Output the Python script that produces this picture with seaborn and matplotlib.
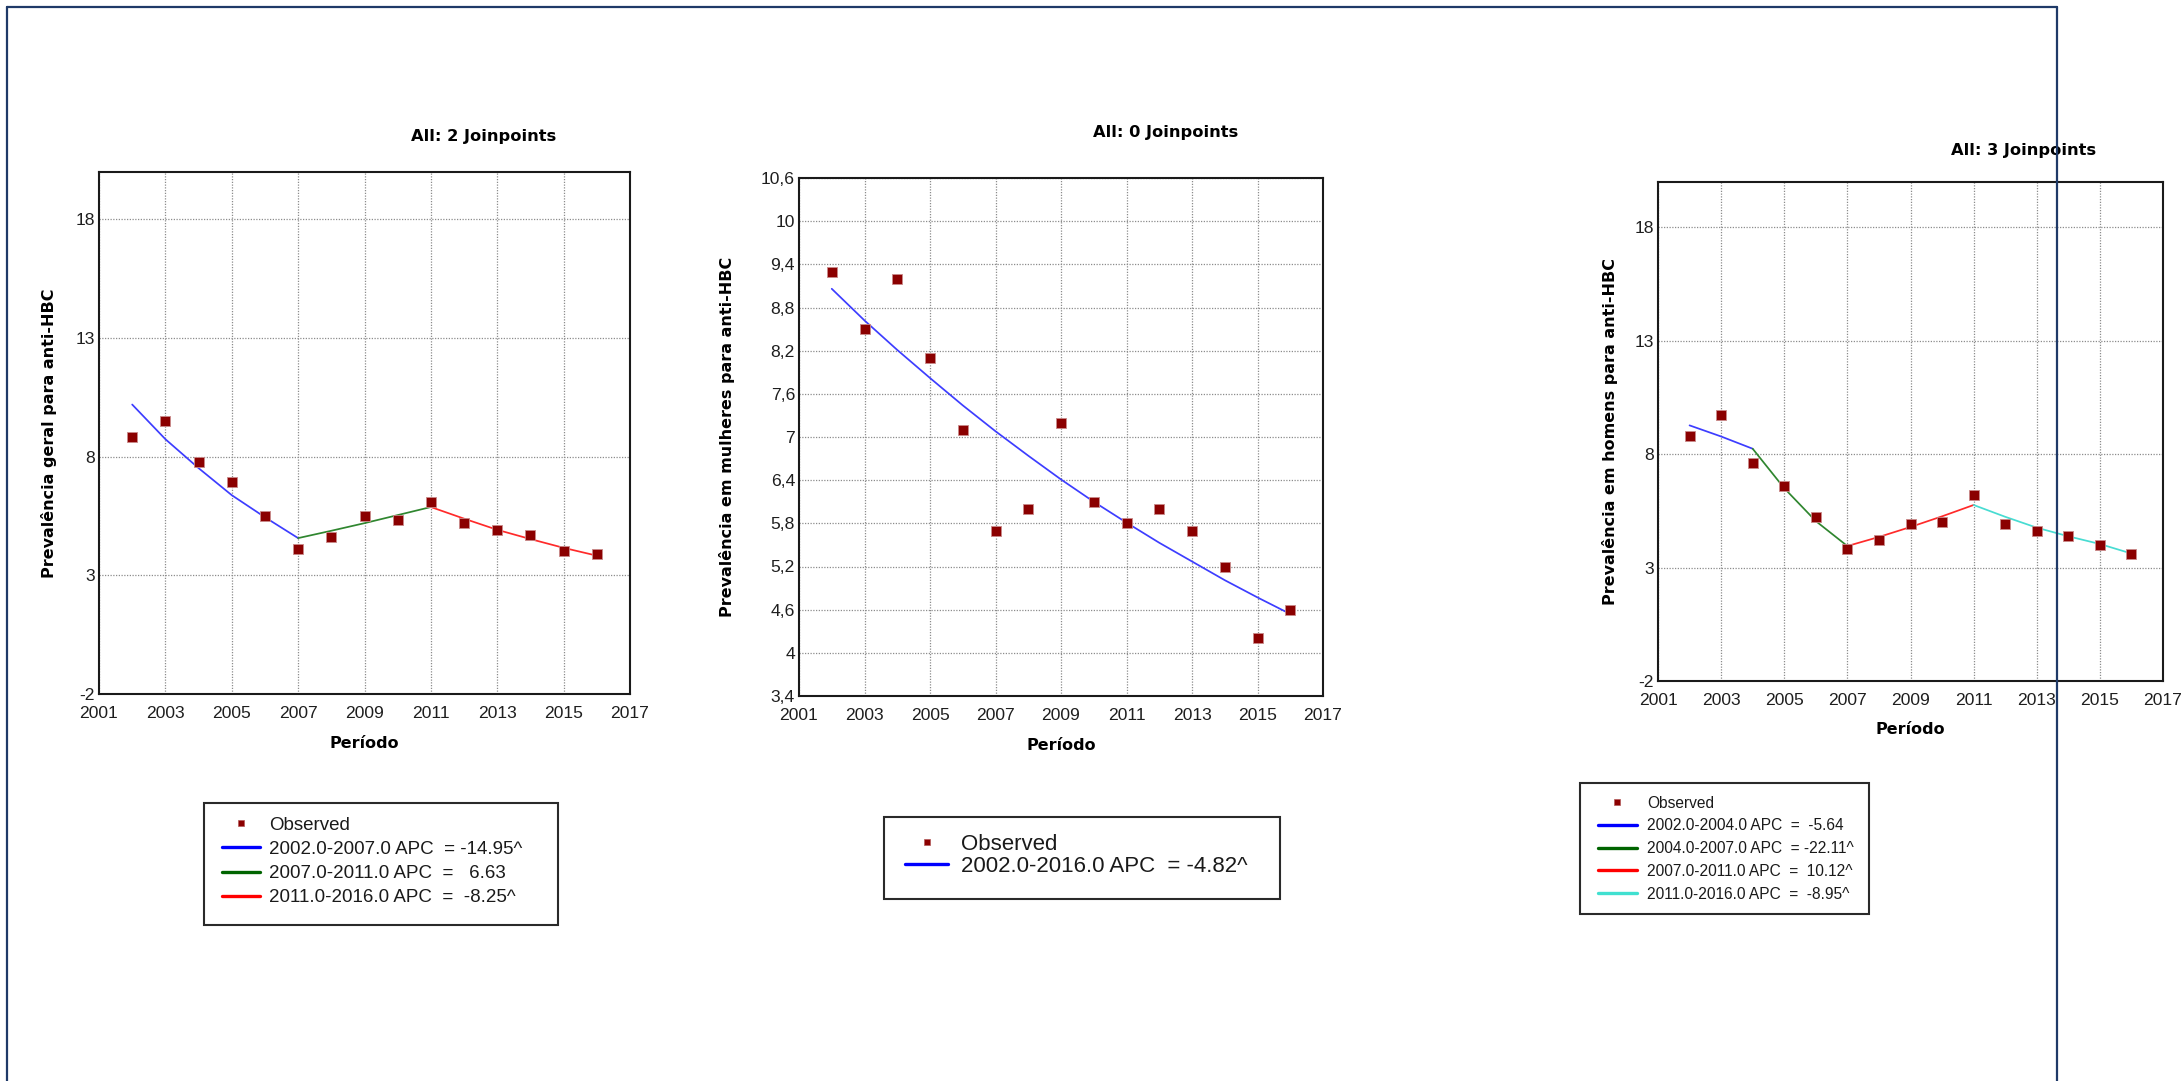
import matplotlib
matplotlib.use("Agg")
import matplotlib.pyplot as plt
import seaborn as sns
from matplotlib.lines import Line2D
from matplotlib.patches import Rectangle
from matplotlib.font_manager import FontProperties

# ---------------- data ----------------
years = [2002, 2003, 2004, 2005, 2006, 2007, 2008, 2009, 2010, 2011, 2012, 2013, 2014, 2015, 2016]
x_ticks = [2001, 2003, 2005, 2007, 2009, 2011, 2013, 2015, 2017]

# Panel 1: geral
obs_geral = [8.82, 9.52, 7.79, 6.92, 5.51, 4.11, 4.62, 5.51, 5.32, 6.10, 5.21, 4.90, 4.71, 4.01, 3.91]
geral_seg1_years = [2002, 2003, 2004, 2005, 2006, 2007]
geral_seg1_vals = [10.2, 8.74, 7.52, 6.38, 5.45, 4.57]
geral_seg2_years = [2007, 2008, 2009, 2010, 2011]
geral_seg2_vals = [4.57, 4.88, 5.20, 5.54, 5.88]
geral_seg3_years = [2011, 2012, 2013, 2014, 2015, 2016]
geral_seg3_vals = [5.88, 5.39, 4.92, 4.53, 4.16, 3.83]
geral_labels = ["2002.0-2007.0 APC  = -14.95^",
                "2007.0-2011.0 APC  =   6.63",
                "2011.0-2016.0 APC  =  -8.25^"]

# Panel 2: mulheres
obs_mulheres = [9.3, 8.5, 9.2, 8.1, 7.1, 5.7, 6.0, 7.2, 6.1, 5.8, 6.0, 5.7, 5.2, 4.2, 4.6]
mulheres_seg1_years = years
mulheres_seg1_vals = [9.06, 8.62, 8.21, 7.82, 7.44, 7.08, 6.74, 6.41, 6.10, 5.81, 5.53, 5.27, 5.01, 4.77, 4.54]
mulheres_labels = ["2002.0-2016.0 APC  = -4.82^"]

# Panel 3: homens
obs_homens = [8.82, 9.71, 7.62, 6.61, 5.21, 3.82, 4.22, 4.90, 5.02, 6.22, 4.92, 4.60, 4.41, 4.01, 3.61]
homens_seg1_years = [2002, 2003, 2004]
homens_seg1_vals = [9.27, 8.78, 8.24]
homens_seg2_years = [2004, 2005, 2006, 2007]
homens_seg2_vals = [8.24, 6.50, 5.05, 3.95]
homens_seg3_years = [2007, 2008, 2009, 2010, 2011]
homens_seg3_vals = [3.95, 4.35, 4.79, 5.26, 5.76]
homens_seg4_years = [2011, 2012, 2013, 2014, 2015, 2016]
homens_seg4_vals = [5.76, 5.24, 4.76, 4.38, 4.04, 3.62]
homens_labels = ["2002.0-2004.0 APC  =  -5.64",
                 "2004.0-2007.0 APC  = -22.11^",
                 "2007.0-2011.0 APC  =  10.12^",
                 "2011.0-2016.0 APC  =  -8.95^"]

yticks_wide = [-2, 3, 8, 13, 18]
yticks_mulheres = [3.4, 4.0, 4.6, 5.2, 5.8, 6.4, 7.0, 7.6, 8.2, 8.8, 9.4, 10.0, 10.6]
yticklabels_mulheres = ["3,4", "4", "4,6", "5,2", "5,8", "6,4", "7", "7,6", "8,2", "8,8", "9,4", "10", "10,6"]

titles = ["All: 2 Joinpoints", "All: 0 Joinpoints", "All: 3 Joinpoints"]
ylabels = ["Prevalência geral para anti-HBC",
           "Prevalência em mulheres para anti-HBC",
           "Prevalência em homens para anti-HBC"]
xlabel = "Período"

# ---------------- style ----------------
sns.set_style("white")
plt.rcParams["font.family"] = ["DejaVu Sans"]
TF = "Liberation Sans"

MARKER = "#8B0000"
PLOT_COLORS = {"blue": "#3d3dff", "green": "#2f862f", "red": "#ff2a2a", "cyan": "#48dcd2"}
LEG_COLORS = {"blue": "#0000ff", "green": "#006400", "red": "#ff0000", "cyan": "#40e0d0"}

W, H = 2184, 1081
fig = plt.figure(figsize=(W / 100, H / 100), dpi=100, facecolor="white")


def rect(l, t, r, b):
    return [l / W, 1 - b / H, (r - l) / W, (b - t) / H]


def panel(box, obs, segs, colors, yticks, yticklabels, ylim, title, title_c,
          ylabel, ylabel_x, xlabel_y):
    l, t, r, b = box
    ax = fig.add_axes(rect(l, t, r, b))
    ax.set_facecolor("white")
    ax.set_axisbelow(True)
    for (sy, sv), c in zip(segs, colors):
        sns.lineplot(x=sy, y=sv, ax=ax, color=PLOT_COLORS[c], lw=1.25, zorder=2)
    sns.scatterplot(x=years, y=obs, ax=ax, marker="s", s=52, color=MARKER,
                    edgecolor="#c98a8a", linewidth=0.6, zorder=3)
    ax.set_xlim(2001, 2017)
    ax.set_ylim(*ylim)
    ax.set_xticks(x_ticks)
    ax.set_xticklabels([str(v) for v in x_ticks])
    ax.set_yticks(yticks)
    ax.set_yticklabels(yticklabels)
    ax.grid(True, color="#8c8c8c", linestyle=(0, (1, 1.2)), linewidth=0.9)
    for lab in ax.get_xticklabels() + ax.get_yticklabels():
        lab.set_fontfamily(TF)
        lab.set_fontsize(12.6)
        lab.set_color("#1e1e1e")
    ax.tick_params(axis="x", length=0, pad=8.5)
    ax.tick_params(axis="y", length=2, width=1.0, pad=0.8, color="#222222")
    for s in ax.spines.values():
        s.set_visible(True)
        s.set_color("#1a1a1a")
        s.set_linewidth(1.5)
    cx, cy = title_c
    ax.set_title(title, x=(cx - l) / (r - l), y=(b - cy) / (b - t), pad=0,
                 va="center", ha="center", fontsize=11.7, fontweight="bold",
                 color="black")
    ax.set_xlabel(xlabel, fontsize=11.5, fontweight="bold", color="black")
    ax.xaxis.label.set_va("center")
    ax.xaxis.set_label_coords(0.5, (b - xlabel_y) / (b - t))
    ax.set_ylabel(ylabel, fontsize=11.5, fontweight="bold", color="black")
    ax.yaxis.label.set_va("center")
    ax.yaxis.set_label_coords((ylabel_x - l) / (r - l), 0.5)
    return ax


def legend(ax, labels, colors, frame, anchor, fsize, hlen, hpad, lspace):
    fx0, fy0, fx1, fy1 = frame
    fig.add_artist(Rectangle((fx0 / W, 1 - fy1 / H), (fx1 - fx0) / W, (fy1 - fy0) / H,
                             transform=fig.transFigure, fill=False,
                             edgecolor="#2a2a2a", linewidth=1.5, zorder=5))
    handles = [Line2D([], [], ls="none", marker="s", markersize=5.0, color=MARKER,
                      markeredgecolor="#b45a5a", markeredgewidth=0.5)]
    handles += [Line2D([], [], color=LEG_COLORS[c], lw=2.4) for c in colors]
    leg = ax.legend(handles, ["Observed"] + labels, loc="upper left",
                    bbox_to_anchor=(anchor[0] / W, 1 - anchor[1] / H),
                    bbox_transform=fig.transFigure, frameon=False,
                    borderpad=0, borderaxespad=0, handlelength=hlen,
                    handletextpad=hpad, labelspacing=lspace,
                    prop=FontProperties(family=TF, size=fsize))
    for txt in leg.get_texts():
        txt.set_color("#1a1a1a")
    return leg


ax1 = panel((99, 172, 630, 694), obs_geral,
            [(geral_seg1_years, geral_seg1_vals), (geral_seg2_years, geral_seg2_vals),
             (geral_seg3_years, geral_seg3_vals)],
            ["blue", "green", "red"], yticks_wide, [str(v) for v in yticks_wide],
            (-2, 20), titles[0], (484, 137), ylabels[0], 49, 744)
legend(ax1, geral_labels, ["blue", "green", "red"], (204, 803, 558, 925),
       (222, 816.5), 13.5, 2.03, 0.48, 0.38)

ax2 = panel((799, 178, 1323, 696), obs_mulheres,
            [(mulheres_seg1_years, mulheres_seg1_vals)],
            ["blue"], yticks_mulheres, yticklabels_mulheres,
            (3.4, 10.6), titles[1], (1166, 132), ylabels[1], 727, 746)
legend(ax2, mulheres_labels, ["blue"], (884, 817, 1280, 899),
       (905, 833.5), 16.0, 1.94, 0.59, 0.06)

ax3 = panel((1658, 182, 2163, 681), obs_homens,
            [(homens_seg1_years, homens_seg1_vals), (homens_seg2_years, homens_seg2_vals),
             (homens_seg3_years, homens_seg3_vals), (homens_seg4_years, homens_seg4_vals)],
            ["blue", "green", "red", "cyan"], yticks_wide, [str(v) for v in yticks_wide],
            (-2, 20), titles[2], (2024, 150), ylabels[2], 1610, 729)
legend(ax3, homens_labels, ["blue", "green", "red", "cyan"], (1580, 783, 1869, 914),
       (1598, 795.5), 11.2, 2.5, 0.65, 0.5)

# outer navy frame (left, top, right edges)
FRAME = "#1f3a68"
fx_l, fx_r, fy_t = 7.3, 2057, 6.7
fig.add_artist(Line2D([fx_l / W, fx_l / W], [0, 1 - fy_t / H], transform=fig.transFigure,
                      color=FRAME, lw=1.6, zorder=10))
fig.add_artist(Line2D([fx_l / W, fx_r / W], [1 - fy_t / H, 1 - fy_t / H],
                      transform=fig.transFigure, color=FRAME, lw=1.6, zorder=10))
fig.add_artist(Line2D([fx_r / W, fx_r / W], [0, 1 - fy_t / H], transform=fig.transFigure,
                      color=FRAME, lw=1.6, zorder=10))

fig.savefig("out.png", dpi=100, facecolor="white")
